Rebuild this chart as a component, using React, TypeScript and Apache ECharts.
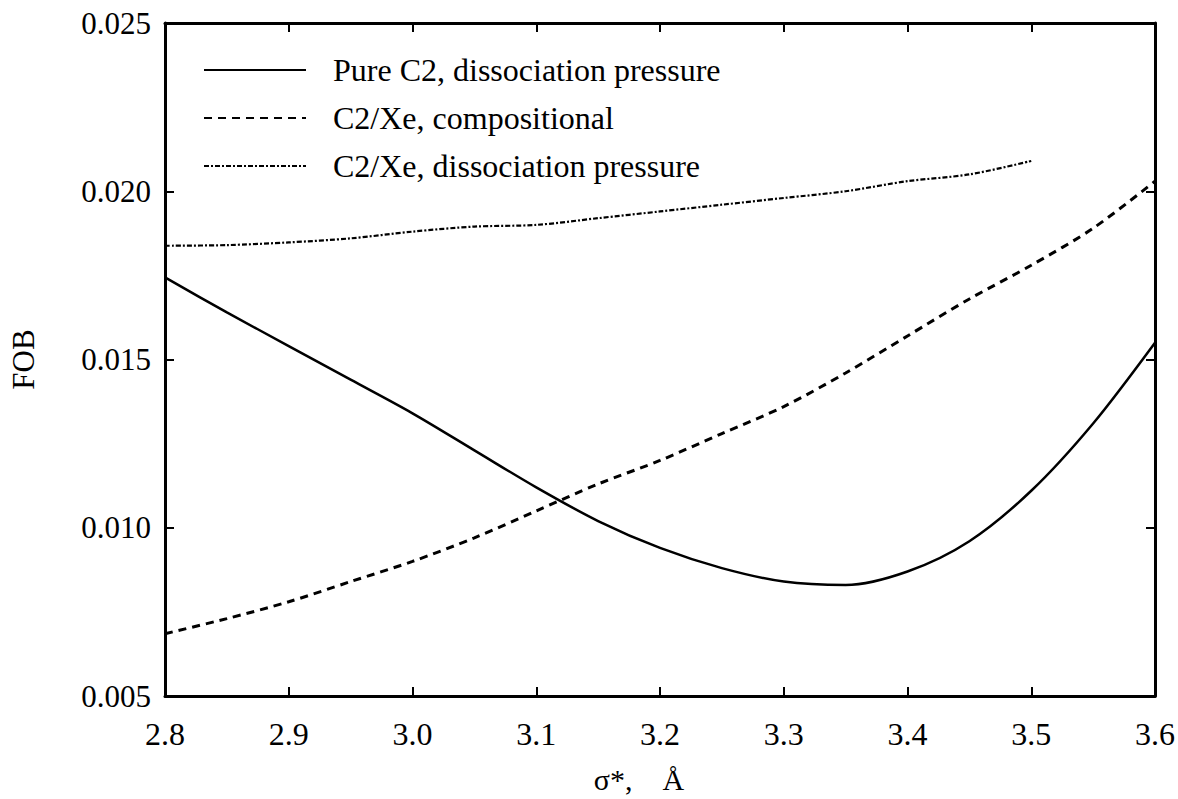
import React, { useEffect, useRef } from "react";
import * as echarts from "echarts";

const xValues = [2.8, 2.85, 2.9, 2.95, 3.0, 3.05, 3.1, 3.15, 3.2, 3.25, 3.3, 3.35, 3.4, 3.45, 3.5, 3.55, 3.6];
const pureC2 = [0.01744, 0.0164, 0.0154, 0.0144, 0.0134, 0.0123, 0.0112, 0.0102, 0.0094, 0.0088, 0.0084, 0.0083, 0.0087, 0.0096, 0.0111, 0.0131, 0.0155];
const compositional = [0.00685, 0.0073, 0.0078, 0.0084, 0.009, 0.0097, 0.0105, 0.0113, 0.012, 0.0128, 0.0136, 0.0146, 0.0157, 0.0168, 0.0178, 0.0189, 0.0203];
const xeDissociation = [0.01838, 0.0184, 0.01848, 0.0186, 0.0188, 0.01895, 0.019, 0.0192, 0.0194, 0.0196, 0.0198, 0.02, 0.0203, 0.0205, 0.0209];
const seriesNames = ["Pure C2, dissociation pressure", "C2/Xe, compositional", "C2/Xe, dissociation pressure"];

const FONT = "'Liberation Serif', 'Times New Roman', serif";

export default function App() {
  const ref = useRef<HTMLDivElement>(null);
  useEffect(() => {
    if (!ref.current) return;
    const chart = echarts.init(ref.current, undefined, { renderer: "svg" });
    const pair = (ys: number[]) => ys.map((y, i) => [xValues[i], y]);
    const axisLine = { show: true, lineStyle: { color: "#000", width: 3 } };
    const tick = { show: true, inside: true, length: 9, lineStyle: { color: "#000", width: 2 } };
    chart.setOption({
      animation: false,
      backgroundColor: "#fff",
      grid: { left: 163, right: 23, top: 23, bottom: 103, containLabel: false },
      legend: {
        orient: "vertical",
        left: 198,
        top: 49,
        itemWidth: 102,
        itemHeight: 14,
        itemGap: 16,
        itemStyle: { opacity: 0, borderWidth: 0 },
        data: seriesNames,
        textStyle: { fontFamily: FONT, fontSize: 32, color: "#000", padding: [0, 0, 0, 22] },
      },
      xAxis: [
        {
          type: "value",
          min: 2.8,
          max: 3.6,
          interval: 0.1,
          position: "bottom",
          axisLine,
          axisTick: tick,
          splitLine: { show: false },
          axisLabel: { fontFamily: FONT, fontSize: 32, color: "#000", margin: 22, formatter: (v: number) => v.toFixed(1) },
          name: "\u03c3*,    \u00c5",
          nameLocation: "middle",
          nameGap: 68,
          nameTextStyle: { fontFamily: FONT, fontSize: 30, color: "#000", padding: [0, 42, 0, 0] },
        },
        {
          type: "value",
          min: 2.8,
          max: 3.6,
          interval: 0.1,
          position: "top",
          axisLine,
          axisTick: tick,
          splitLine: { show: false },
          axisLabel: { show: false },
        },
      ],
      yAxis: [
        {
          type: "value",
          min: 0.005,
          max: 0.025,
          interval: 0.005,
          position: "left",
          axisLine,
          axisTick: tick,
          splitLine: { show: false },
          axisLabel: { fontFamily: FONT, fontSize: 31, color: "#000", margin: 14, formatter: (v: number) => v.toFixed(3) },
          name: "FOB",
          nameLocation: "middle",
          nameGap: 126,
          nameTextStyle: { fontFamily: FONT, fontSize: 31, color: "#000" },
        },
        {
          type: "value",
          min: 0.005,
          max: 0.025,
          interval: 0.005,
          position: "right",
          axisLine,
          axisTick: tick,
          splitLine: { show: false },
          axisLabel: { show: false },
        },
      ],
      series: [
        {
          name: seriesNames[0],
          type: "line",
          data: pair(pureC2),
          smooth: 0.3,
          showSymbol: false,
          symbol: "none",
          lineStyle: { color: "#000", width: 2.5, type: "solid" },
          itemStyle: { color: "#000" },
        },
        {
          name: seriesNames[1],
          type: "line",
          data: pair(compositional),
          smooth: 0.3,
          showSymbol: false,
          symbol: "none",
          lineStyle: { color: "#000", width: 3, type: [8, 6] },
          itemStyle: { color: "#000" },
        },
        {
          name: seriesNames[2],
          type: "line",
          data: pair(xeDissociation),
          smooth: 0.3,
          showSymbol: false,
          symbol: "none",
          lineStyle: { color: "#000", width: 2.2, type: [5, 2, 2, 2] },
          itemStyle: { color: "#000" },
        },
      ],
    });
    return () => chart.dispose();
  }, []);
  return <div ref={ref} style={{ position: "fixed", left: 0, top: 0, width: 1178, height: 799 }} />;
}
